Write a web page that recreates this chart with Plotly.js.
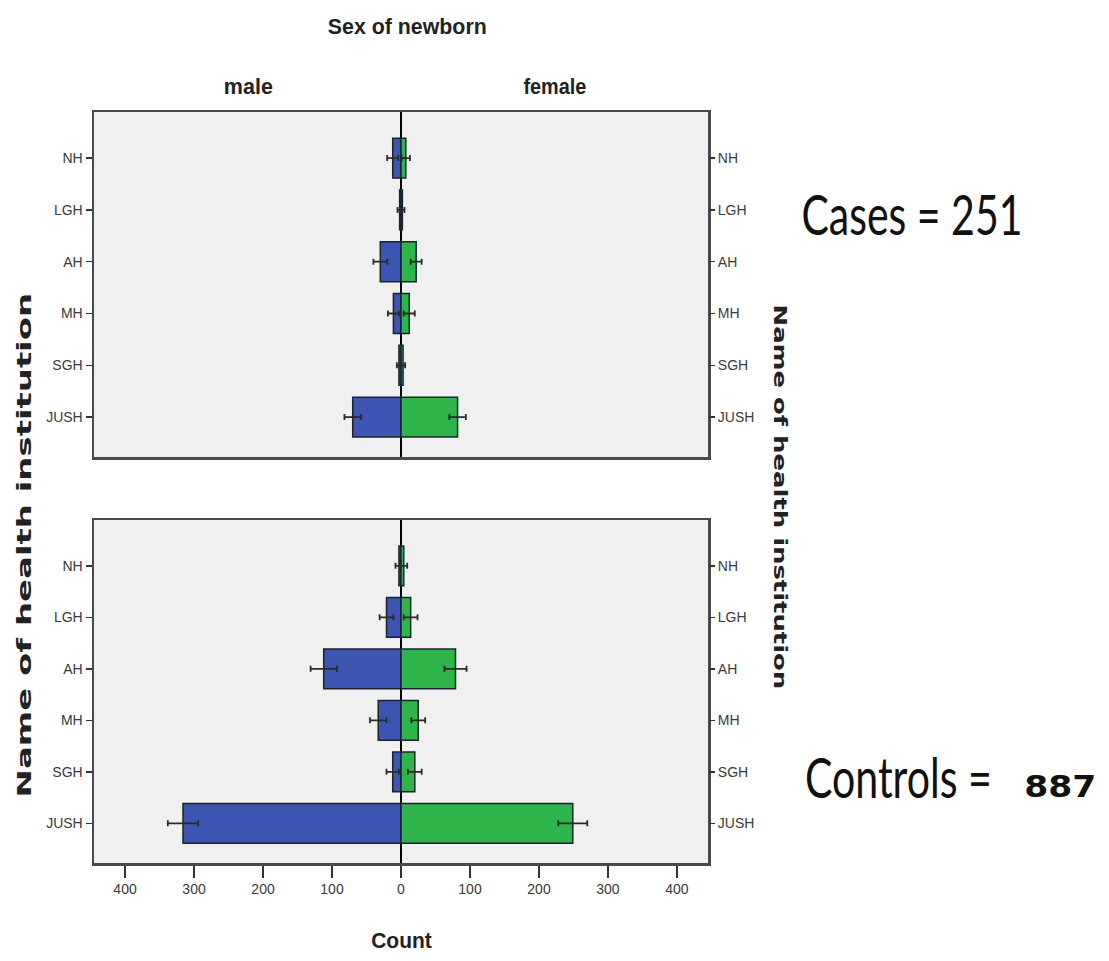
<!DOCTYPE html>
<html><head><meta charset="utf-8">
<script src="https://cdn.plot.ly/plotly-3.0.1.min.js"></script>
<style>html,body{margin:0;padding:0;background:#fff}</style>
</head><body>
<div id="chart" style="width:1109px;height:961px"></div>
<script>
// ---- data ----
const institutions = ['NH','LGH','AH','MH','SGH','JUSH'];
const casesMale = [12, 2, 30, 11, 3, 70];
const casesMaleErr = [8, 3, 10, 8, 3, 12];
const casesFemale = [7, 2, 22, 12, 3, 82];
const casesFemaleErr = [6, 3, 8, 8, 3, 12];
const controlsMale = [3, 21, 112, 33, 12, 316];
const controlsMaleErr = [5, 10, 19, 12, 9, 22];
const controlsFemale = [4, 14, 79, 25, 20, 249];
const controlsFemaleErr = [5, 10, 16, 10, 10, 21];
const xTickVals = [-400, -300, -200, -100, 0, 100, 200, 300, 400];
const xTickText = ['400', '300', '200', '100', '0', '100', '200', '300', '400'];
const casesLabel = 'Cases = 251';
const controlsLabel = 'Controls =';
const controlsCount = '887';

// ---- styling ----
const BLUE = '#3d55b2';
const GREEN = '#2fb34b';
const BAR_LINE = {color: '#1b2330', width: 1.5};
const ERR_COLOR = '#2a2a2a';
const W = 1109, H = 961;
const L = 94, R = 708, T = 112, B = 863;
function px(x) { return (x - L) / (R - L); }
function py(y) { return (B - y) / (B - T); }

function barTrace(vals, errs, color, negate, xa, ya) {
  return {
    type: 'bar', orientation: 'h',
    y: institutions,
    x: vals.map(v => negate ? -v : v),
    error_x: {type: 'data', array: errs, visible: true, color: ERR_COLOR, thickness: 1.8, width: 3},
    marker: {color: color, line: BAR_LINE},
    width: 0.77,
    xaxis: xa, yaxis: ya,
    hoverinfo: 'skip', showlegend: false
  };
}
function ghost(xa, ya) {
  return {type: 'scatter', mode: 'markers', y: institutions, x: institutions.map(() => 0),
    marker: {opacity: 0}, xaxis: xa, yaxis: ya, hoverinfo: 'skip', showlegend: false};
}

const traces = [
  barTrace(casesMale, casesMaleErr, BLUE, true, 'x', 'y'),
  barTrace(casesFemale, casesFemaleErr, GREEN, false, 'x', 'y'),
  barTrace(controlsMale, controlsMaleErr, BLUE, true, 'x2', 'y2'),
  barTrace(controlsFemale, controlsFemaleErr, GREEN, false, 'x2', 'y2'),
  ghost('x', 'y3'),
  ghost('x2', 'y4')
];

const tickFont = {family: '"Liberation Sans", Arial, sans-serif', size: 14, color: '#3a3a3a'};
const yRange = [5.77, -0.89];
const topDom = [py(457), 1];
const botDom = [0, py(520)];

const xBase = {
  range: [-445, 445], showgrid: false, zeroline: true, zerolinecolor: '#000', zerolinewidth: 1.6,
  showline: true, mirror: true, linecolor: '#4a4a4a', linewidth: 2.5, fixedrange: true
};
const yBase = {
  type: 'category', categoryorder: 'array', categoryarray: institutions,
  range: yRange, showgrid: false, zeroline: false, showline: true, mirror: true,
  linecolor: '#4a4a4a', linewidth: 2.5, ticks: 'outside', ticklen: 6, tickwidth: 1.5, tickcolor: '#333',
  tickfont: tickFont, fixedrange: true
};
const yRight = {
  type: 'category', categoryorder: 'array', categoryarray: institutions,
  range: yRange, showgrid: false, zeroline: false, showline: false, side: 'right',
  ticks: 'outside', ticklen: 6, tickwidth: 1.5, tickcolor: '#333', tickfont: tickFont, fixedrange: true
};

const boldLab = {family: '"Liberation Sans", Arial, sans-serif', size: 17, color: '#222', weight: 'bold'};
const vertLab = {family: '"DejaVu Sans", Verdana, sans-serif', size: 18, color: '#222', weight: 'bold'};
const bigLab = {family: 'Lato, "Open Sans", sans-serif', size: 56, color: '#111'};

function ann(text, cx, cy, font, angle) {
  return {text: text, x: px(cx), y: py(cy), xref: 'paper', yref: 'paper', xanchor: 'center', yanchor: 'middle',
    showarrow: false, textangle: angle || 0, font: font};
}

const layout = {
  width: W, height: H,
  margin: {l: L, r: W - R, t: T, b: H - B, pad: 0},
  paper_bgcolor: '#ffffff', plot_bgcolor: '#f0f0f0',
  barmode: 'relative',
  xaxis: Object.assign({}, xBase, {anchor: 'y', showticklabels: false, ticks: ''}),
  xaxis2: Object.assign({}, xBase, {anchor: 'y2', tickvals: xTickVals, ticktext: xTickText,
    ticks: 'outside', ticklen: 12, tickwidth: 1.5, tickcolor: '#333', tickfont: tickFont}),
  yaxis: Object.assign({}, yBase, {domain: topDom, anchor: 'x'}),
  yaxis2: Object.assign({}, yBase, {domain: botDom, anchor: 'x2'}),
  yaxis3: Object.assign({}, yRight, {domain: topDom, anchor: 'x', overlaying: 'y'}),
  yaxis4: Object.assign({}, yRight, {domain: botDom, anchor: 'x2', overlaying: 'y2'}),
  annotations: [
    ann('Sex of newborn', 407, 27, boldLab),
    ann('male', 248, 87, boldLab),
    ann('female', 555, 87, boldLab),
    ann('Count', 401, 940, boldLab),
    ann('Name of health institution', 23, 545, vertLab, -90),
    ann('Name of health institution', 781, 497, vertLab, 90),
    ann(casesLabel, 912, 213, bigLab),
    ann(controlsLabel, 898, 776, bigLab),
    ann(controlsCount, 1060, 786, {family: '"DejaVu Sans", Verdana, sans-serif', size: 30, color: '#111', weight: 'bold'})
  ]
};

// target text widths (along reading direction) and cross-scale, mimicking the stretched original
const fits = [
  {i: 0, w: 159, sy: 1.3},
  {i: 1, w: 49, sy: 1.3},
  {i: 2, w: 63, sy: 1.3},
  {i: 3, w: 61, sy: 1.3},
  {i: 4, w: 505, sy: 1.1},
  {i: 5, w: 385, sy: 0.95},
  {i: 6, w: 221, sy: 1.0},
  {i: 7, w: 187, sy: 1.0},
  {i: 8, w: 72, sy: 1.0}
];

Plotly.newPlot('chart', traces, layout, {displayModeBar: false, staticPlot: true}).then(() => {
  fits.forEach(f => {
    const t = document.querySelector('.annotation[data-index="' + f.i + '"] text.annotation-text');
    if (!t) return;
    const bb = t.getBBox();
    const cx = bb.x + bb.width / 2, cy = bb.y + bb.height / 2;
    const sx = f.w / bb.width;
    t.setAttribute('transform', 'translate(' + cx + ',' + cy + ') scale(' + sx + ',' + f.sy + ') translate(' + (-cx) + ',' + (-cy) + ')');
  });
});
</script>
</body></html>
